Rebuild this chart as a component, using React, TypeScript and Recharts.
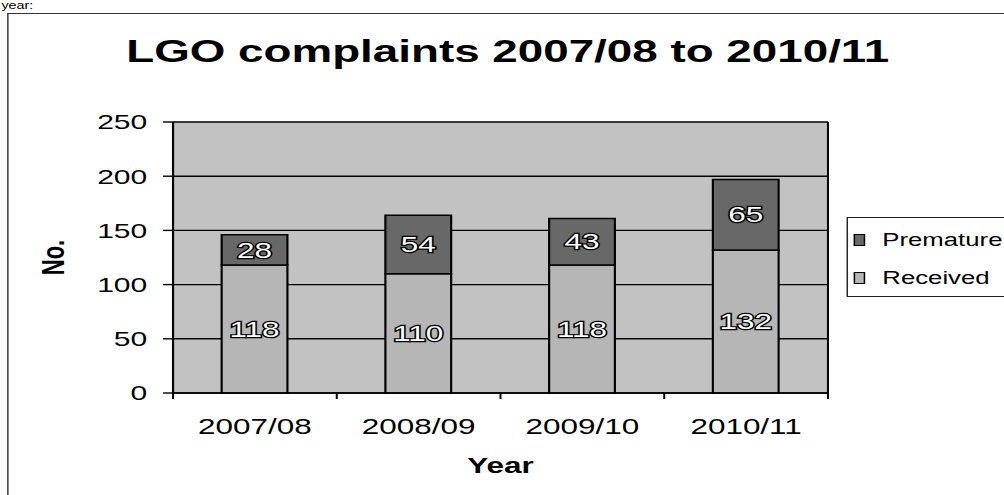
import React from 'react';
import { BarChart, Bar, XAxis, YAxis, CartesianGrid, Legend, LabelList } from 'recharts';

const categories = ['2007/08', '2008/09', '2009/10', '2010/11'];
const received = [118, 110, 118, 132];
const premature = [28, 54, 43, 65];
const yTicks = [0, 50, 100, 150, 200, 250];
const seriesNames = { premature: 'Premature', received: 'Received' };

const data = categories.map((year, i) => ({
  year,
  Received: received[i],
  Premature: premature[i],
}));

const SX = 1.43; // horizontal stretch of the scanned chart
const W = 1004 / SX;
const H = 495;
const FONT = '"Liberation Sans", Arial, Helvetica, sans-serif';

const COL_BG = '#c2c2c2';
const COL_REC = '#b6b6b6';
const COL_PRE = '#686868';

const XTick = (props: any) => {
  const { x, y, payload, index } = props;
  const half = payload?.offset ?? 0;
  const axisY = y - 25;
  const isLast = (index ?? payload?.index) === categories.length - 1;
  return (
    <g>
      <line x1={x - half} x2={x - half} y1={axisY} y2={axisY + 6} stroke="#000" strokeWidth={1.4} />
      {isLast && (
        <line x1={x + half} x2={x + half} y1={axisY} y2={axisY + 6} stroke="#000" strokeWidth={1.4} />
      )}
      <text x={x} y={y + 16} textAnchor="middle" fontSize={22} fill="#000" fontFamily={FONT}>
        {payload.value}
      </text>
    </g>
  );
};

const renderValueLabel = (props: any) => {
  const vb = props.viewBox || props;
  const x = vb.x ?? props.x;
  const y = vb.y ?? props.y;
  const w = vb.width ?? props.width;
  const h = vb.height ?? props.height;
  return (
    <text
      x={x + w / 2}
      y={y + h / 2}
      textAnchor="middle"
      dominantBaseline="central"
      fontSize={22}
      fontFamily={FONT}
      fill="#fff"
      stroke="#000"
      strokeWidth={2.4}
      paintOrder="stroke"
    >
      {props.value}
    </text>
  );
};

const YearLabel = (props: any) => {
  const vb = props.viewBox;
  return (
    <text x={vb.x + vb.width / 2} y={vb.y + 80} textAnchor="middle" fontSize={22} fontWeight="bold" fill="#000" fontFamily={FONT}>
      Year
    </text>
  );
};

const NoLabel = (props: any) => {
  const vb = props.viewBox;
  const cx = vb.x + 17;
  const cy = vb.y + vb.height / 2;
  return (
    <text
      x={cx}
      y={cy}
      textAnchor="middle"
      dominantBaseline="central"
      transform={`rotate(-90 ${cx} ${cy})`}
      fontSize={22}
      fontWeight="bold"
      fill="#000"
      fontFamily={FONT}
    >
      No.
    </text>
  );
};

const LegendContent = () => {
  const items = [
    { name: seriesNames.premature, color: COL_PRE, top: 22 },
    { name: seriesNames.received, color: COL_REC, top: 60 },
  ];
  return (
    <div
      style={{
        position: 'relative',
        width: 114,
        height: 80,
        border: '1.4px solid #222',
        boxSizing: 'border-box',
        background: '#fff',
        fontFamily: FONT,
      }}
    >
      {items.map((it) => (
        <div key={it.name}>
          <div
            style={{
              position: 'absolute',
              left: 4,
              top: it.top - 6.5,
              width: 7.5,
              height: 12,
              boxSizing: 'border-box',
              border: '1px solid #000',
              background: it.color,
            }}
          />
          <div
            style={{
              position: 'absolute',
              left: 24,
              top: it.top - 11,
              fontSize: 18,
              lineHeight: '22px',
              color: '#000',
              whiteSpace: 'nowrap',
            }}
          >
            {it.name}
          </div>
        </div>
      ))}
    </div>
  );
};

export default function App() {
  return (
    <div
      style={{
        position: 'fixed',
        left: 0,
        top: 0,
        width: 1004,
        height: 495,
        overflow: 'hidden',
        background: '#fff',
      }}
    >
      <div
        style={{
          position: 'absolute',
          left: 0,
          top: 0,
          width: W,
          height: H,
          transform: `scaleX(${SX})`,
          transformOrigin: '0 0',
          fontFamily: FONT,
        }}
      >
        <div
          style={{
            position: 'absolute',
            left: 1,
            top: 0,
            fontSize: 10,
            lineHeight: '11px',
            color: '#000',
          }}
        >
          year:
        </div>
        <div
          style={{
            position: 'absolute',
            left: 4.6,
            top: 12.5,
            width: 800,
            height: 600,
            borderLeft: '1.4px solid #333',
            borderTop: '1.5px solid #333',
          }}
        />
        <div
          style={{
            position: 'absolute',
            left: 4,
            top: 35,
            width: W,
            textAlign: 'center',
            fontSize: 32,
            lineHeight: '32px',
            fontWeight: 'bold',
            color: '#000',
            whiteSpace: 'nowrap',
          }}
        >
          LGO complaints 2007/08 to 2010/11
        </div>
        <div style={{ position: 'absolute', left: 0, top: 0 }}>
          <BarChart
            width={W}
            height={H}
            data={data}
            margin={{ top: 122, right: W - 579, left: 20, bottom: 12 }}
            barCategoryGap={0}
          >
            <CartesianGrid
              fill={COL_BG}
              fillOpacity={1}
              stroke="#000"
              strokeWidth={1.4}
              verticalCoordinatesGenerator={(p: any) => [p.offset.left, p.offset.left + p.offset.width]}
            />
            <XAxis
              dataKey="year"
              type="category"
              interval={0}
              height={90}
              tickLine={false}
              tickSize={6}
              tickMargin={19}
              axisLine={{ stroke: '#000', strokeWidth: 1.5 }}
              tick={<XTick />}
              label={<YearLabel />}
            />
            <YAxis
              type="number"
              domain={[0, 250]}
              ticks={yTicks}
              interval={0}
              width={101}
              tickSize={7}
              tickMargin={11}
              axisLine={{ stroke: '#000', strokeWidth: 1.5 }}
              tickLine={{ stroke: '#000', strokeWidth: 1.4 }}
              tick={{ fontSize: 21, fill: '#000', fontFamily: FONT }}
              label={<NoLabel />}
            />
            <Legend
              layout="vertical"
              align="center"
              verticalAlign="middle"
              content={<LegendContent />}
              wrapperStyle={{ left: 592, top: 217, width: 114, height: 80 }}
            />
            <Bar
              dataKey="Received"
              name={seriesNames.received}
              stackId="a"
              barSize={46}
              fill={COL_REC}
              stroke="#000"
              strokeWidth={1.5}
              isAnimationActive={false}
            >
              <LabelList dataKey="Received" position="center" content={renderValueLabel} />
            </Bar>
            <Bar
              dataKey="Premature"
              name={seriesNames.premature}
              stackId="a"
              barSize={46}
              fill={COL_PRE}
              stroke="#000"
              strokeWidth={1.5}
              isAnimationActive={false}
            >
              <LabelList dataKey="Premature" position="center" content={renderValueLabel} />
            </Bar>
          </BarChart>
        </div>
      </div>
    </div>
  );
}
